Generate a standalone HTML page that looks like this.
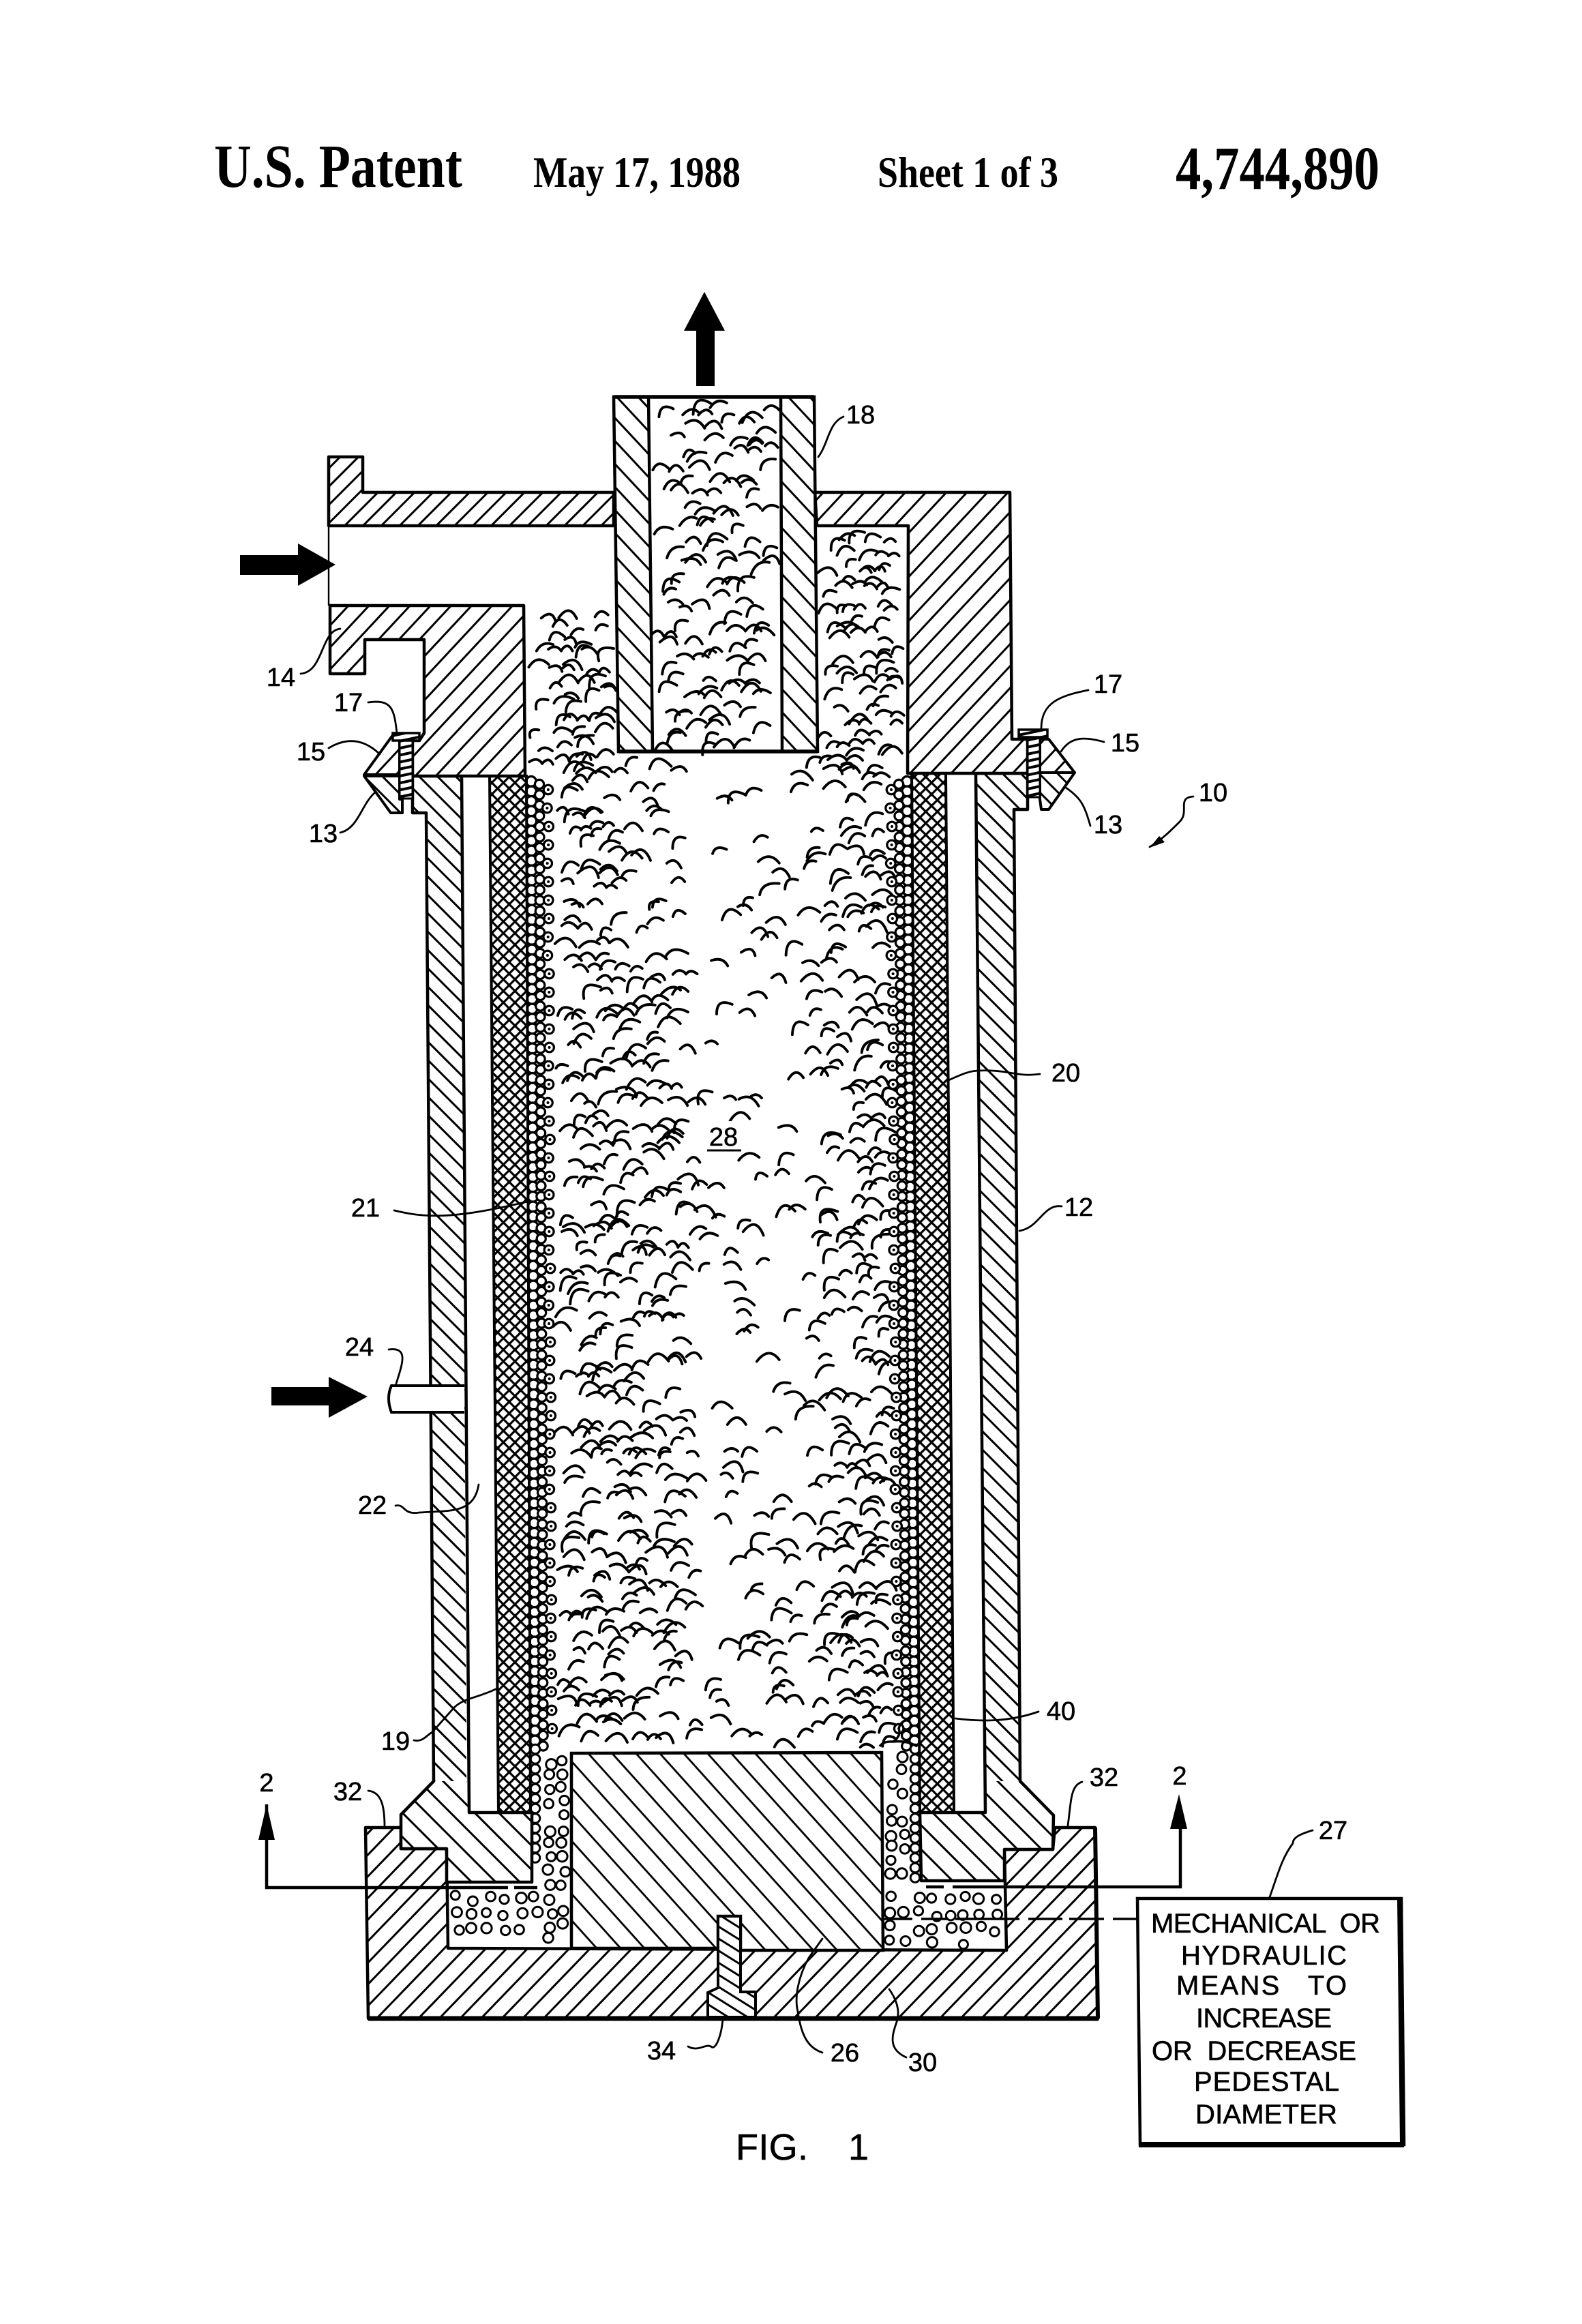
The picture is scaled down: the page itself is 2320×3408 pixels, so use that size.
<!DOCTYPE html>
<html lang="en">
<head>
<meta charset="utf-8">
<title>U.S. Patent 4,744,890 - FIG. 1</title>
<style>
html,body{margin:0;padding:0;background:#fff;width:2320px;height:3408px;overflow:hidden}
svg{display:block;position:absolute;left:0;top:0}
.h{font-family:"Liberation Serif",serif;font-weight:bold;fill:#000}
.l{font-family:"Liberation Sans",sans-serif;font-size:38px;fill:#000;text-anchor:middle;stroke:#000;stroke-width:.6}
.b{font-family:"Liberation Sans",sans-serif;font-size:40px;fill:#000;stroke:#000;stroke-width:.6}
.o{fill:none;stroke:#000;stroke-width:4.5;stroke-linejoin:round}
.ld{fill:none;stroke:#000;stroke-width:2.8;stroke-linecap:round}
</style>
</head>
<body>
<svg id="s" width="2320" height="3408" viewBox="0 0 2320 3408" xmlns="http://www.w3.org/2000/svg">
<defs>
<pattern id="hw" width="19" height="19" patternUnits="userSpaceOnUse" patternTransform="rotate(45)"><rect width="19" height="19" fill="#fff"/><rect y="8" width="19" height="3" fill="#000"/></pattern>
<pattern id="hu" width="25" height="25" patternUnits="userSpaceOnUse" patternTransform="rotate(45)"><rect width="25" height="25" fill="#fff"/><rect y="11" width="25" height="3" fill="#000"/></pattern>
<pattern id="ht" width="23" height="23" patternUnits="userSpaceOnUse" patternTransform="rotate(47)"><rect width="23" height="23" fill="#fff"/><rect y="10" width="23" height="3" fill="#000"/></pattern>
<pattern id="hr" width="22" height="22" patternUnits="userSpaceOnUse" patternTransform="rotate(-47)"><rect width="22" height="22" fill="#fff"/><rect y="10" width="22" height="3" fill="#000"/></pattern>
<pattern id="hp" width="19" height="19" patternUnits="userSpaceOnUse" patternTransform="rotate(-45)"><rect width="19" height="19" fill="#fff"/><rect y="8" width="19" height="3" fill="#000"/></pattern>
<pattern id="hd" width="26" height="26" patternUnits="userSpaceOnUse" patternTransform="rotate(48)"><rect width="26" height="26" fill="#fff"/><rect y="12" width="26" height="2.8" fill="#000"/></pattern>
<pattern id="hb" width="22" height="22" patternUnits="userSpaceOnUse" patternTransform="rotate(-46)"><rect width="22" height="22" fill="#fff"/><rect y="10" width="22" height="3" fill="#000"/></pattern>
<pattern id="hs" width="10" height="10" patternUnits="userSpaceOnUse" patternTransform="rotate(-12)"><rect width="10" height="10" fill="#fff"/><rect y="3" width="10" height="4" fill="#000"/></pattern>
<pattern id="hk" width="15" height="15" patternUnits="userSpaceOnUse" patternTransform="rotate(32)"><rect width="15" height="15" fill="#fff"/><rect y="6" width="15" height="3" fill="#000"/></pattern>
<pattern id="m" width="12" height="12" patternUnits="userSpaceOnUse" patternTransform="rotate(45)"><rect width="12" height="12" fill="#fff"/><rect width="12" height="3.2" fill="#000"/><rect width="3.2" height="12" fill="#000"/></pattern>
</defs>

<!-- header -->
<text class="h" x="314" y="274" font-size="90" textLength="364" lengthAdjust="spacingAndGlyphs">U.S. Patent</text>
<text class="h" x="782" y="274" font-size="64" textLength="304" lengthAdjust="spacingAndGlyphs">May 17, 1988</text>
<text class="h" x="1287" y="274" font-size="64" textLength="265" lengthAdjust="spacingAndGlyphs">Sheet 1 of 3</text>
<text class="h" x="1724" y="277" font-size="90" textLength="299" lengthAdjust="spacingAndGlyphs">4,744,890</text>

<g id="grain"></g>
<g id="beads"></g>

<!-- mesh layers -->
<polygon points="718,1138 772,1138 778,2658 731,2658" fill="url(#m)" stroke="#000" stroke-width="4"/>
<polygon points="1337,1134 1387,1134 1399,2658 1349,2658" fill="url(#m)" stroke="#000" stroke-width="4"/>

<!-- base -->
<polygon points="536,2680 588,2680 588,2711 655,2711 657,2857 1476,2860 1473,2712 1544,2712 1547,2680 1606,2680 1610,2960 540,2960" fill="url(#hb)" stroke="#000" stroke-width="4.5" stroke-linejoin="round"/>
<line x1="540" y1="2960" x2="1611" y2="2960" stroke="#000" stroke-width="7"/>
<line x1="1606" y1="2680" x2="1610" y2="2960" stroke="#000" stroke-width="6"/>

<!-- vessel walls: hatch fills -->
<polygon points="636,2612 684,2612 688,2658 780,2658 780,2760 655,2760 655,2711 588,2711 588,2661" fill="url(#hu)"/>
<polygon points="605,1138 677,1138 684,2612 636,2612 625,1192 605,1192" fill="url(#hw)"/>
<polygon points="1496,2612 1545,2662 1544,2712 1473,2712 1473,2758 1351,2758 1349,2658 1445,2658 1444,2612" fill="url(#hu)"/>
<polygon points="1431,1134 1507,1134 1507,1187 1487,1187 1496,2612 1444,2612" fill="url(#hw)"/>
<!-- vessel walls: outlines -->
<path class="o" d="M605,1138 H677 L688,2658 H780 V2760 H655 V2711 H588 V2661 L636,2612 L625,1192 H605 Z"/>
<path class="o" d="M1431,1134 H1507 V1187 H1487 L1496,2612 L1545,2662 L1544,2712 H1473 V2758 H1351 L1349,2658 H1445 Z"/>

<!-- pedestal -->
<polygon points="838,2571 1293,2570 1295,2860 1086,2860 1086,2810 1053,2810 1053,2857 838,2857" fill="url(#hd)" stroke="#000" stroke-width="4.5"/>

<!-- bolt 34 -->
<polygon points="1053,2810 1086,2810 1086,2921 1108,2921 1108,2958 1038,2958 1038,2922 1053,2915" fill="url(#hk)" stroke="#000" stroke-width="4"/>

<!-- top housing -->
<polygon points="482,670 532,670 532,722 900,722 900,771 482,771" fill="url(#hp)" stroke="#000" stroke-width="4.5" stroke-linejoin="round"/>
<polygon points="1195,722 1481,722 1484,1084 1507,1084 1507,1134 1331,1134 1332,771 1198,771" fill="url(#hr)" stroke="#000" stroke-width="4.5" stroke-linejoin="round"/>
<polygon points="484,888 768,888 770,1138 605,1138 605,1086 615,1086 622,1075 622,938 535,938 535,988 484,988" fill="url(#hr)" stroke="#000" stroke-width="4.5" stroke-linejoin="round"/>
<line x1="482" y1="771" x2="482" y2="888" stroke="#000" stroke-width="2.4"/>

<!-- outlet tube 18 -->
<polygon points="900,582 951,582 957,1102 907,1102" fill="url(#ht)" stroke="#000" stroke-width="4.5"/>
<polygon points="1145,582 1194,582 1199,1102 1147,1102" fill="url(#ht)" stroke="#000" stroke-width="4.5"/>
<line x1="900" y1="582" x2="1194" y2="582" stroke="#000" stroke-width="5.5"/>
<line x1="907" y1="1102" x2="1199" y2="1102" stroke="#000" stroke-width="5.5"/>

<!-- clamps and bolts left -->
<polygon points="534,1136 576,1078 586,1078 586,1136" fill="url(#hr)" stroke="#000" stroke-width="4" stroke-linejoin="round"/>
<polygon points="534,1138 573,1192 590,1192 590,1172 586,1172 586,1138" fill="url(#hw)" stroke="#000" stroke-width="4" stroke-linejoin="round"/>
<rect x="586" y="1086" width="19" height="85" fill="url(#hs)" stroke="#000" stroke-width="3"/>
<rect x="576" y="1075" width="39" height="11" fill="url(#hs)" stroke="#000" stroke-width="3.5"/>

<!-- clamps and bolts right -->
<polygon points="1525,1084 1538,1084 1576,1133 1525,1133" fill="url(#hr)" stroke="#000" stroke-width="4" stroke-linejoin="round"/>
<polygon points="1525,1133 1576,1133 1538,1187 1527,1187 1525,1172" fill="url(#hw)" stroke="#000" stroke-width="4" stroke-linejoin="round"/>
<rect x="1507" y="1080" width="18" height="89" fill="url(#hs)" stroke="#000" stroke-width="3"/>
<rect x="1494" y="1070" width="42" height="11" fill="url(#hs)" stroke="#000" stroke-width="3.5"/>

<!-- inlet pipe 24 -->
<path d="M681,2032 L574,2032 Q566,2050 574,2071 L681,2071" fill="#fff" stroke="#000" stroke-width="4"/>

<!-- big arrows -->
<polygon points="1021,566 1021,485 1003,485 1033,428 1063,485 1048,485 1048,566" fill="#000"/>
<polygon points="352,814 437,814 437,797 492,828 437,859 437,843 352,843" fill="#000"/>
<polygon points="398,2034 482,2034 482,2019 539,2048 482,2079 482,2061 398,2061" fill="#000"/>

<!-- section lines -->
<path d="M391,2646 V2768 H654 M657,2768 H745 M754,2768 H788" fill="none" stroke="#000" stroke-width="4.5"/>
<polygon points="391,2646 403,2698 379,2698" fill="#000"/>
<path d="M1358,2767 H1384 M1397,2767 H1731 V2682" fill="none" stroke="#000" stroke-width="4.5"/>
<polygon points="1729,2631 1741,2682 1716,2682" fill="#000"/>

<!-- dashed link to box -->
<path d="M1295,2814 H1338 M1351,2814 H1391 M1401,2814 H1495 M1508,2814 H1558 M1568,2814 H1619 M1632,2814 H1668" fill="none" stroke="#000" stroke-width="3.6"/>

<!-- bead retainer bump -->
<path d="M1290,2561 Q1295,2553 1310,2554 Q1322,2545 1318,2535 Q1320,2525 1330,2522 M1310,2554 Q1330,2552 1345,2561" fill="none" stroke="#000" stroke-width="3.4"/>

<!-- control box -->
<polygon points="1668,2784 2055,2784 2059,3145 1672,3145" fill="#fff" stroke="#000" stroke-width="4.5"/>
<line x1="2053" y1="2784" x2="2057" y2="3145" stroke="#000" stroke-width="8"/>
<line x1="1670" y1="3145" x2="2059" y2="3145" stroke="#000" stroke-width="8"/>
<text class="b" x="1688" y="2834" xml:space="preserve" textLength="336">MECHANICAL  OR</text>
<text class="b" x="1732" y="2881" textLength="243">HYDRAULIC</text>
<text class="b" x="1725" y="2925" xml:space="preserve" textLength="250">MEANS   TO</text>
<text class="b" x="1754" y="2973" textLength="199">INCREASE</text>
<text class="b" x="1689" y="3021" xml:space="preserve" textLength="300">OR  DECREASE</text>
<text class="b" x="1751" y="3066" textLength="213">PEDESTAL</text>
<text class="b" x="1753" y="3114" textLength="208">DIAMETER</text>

<!-- leaders -->
<path class="ld" d="M1200,670 C1215,650 1215,620 1237,611"/>
<path class="ld" d="M499,922 C470,925 475,985 441,988"/>
<path class="ld" d="M540,1030 C575,1025 578,1040 582,1075"/>
<path class="ld" d="M482,1097 C510,1080 535,1085 557,1106"/>
<path class="ld" d="M499,1221 C525,1215 530,1180 549,1163"/>
<path class="ld" d="M1596,1012 C1555,1020 1527,1030 1527,1068"/>
<path class="ld" d="M1619,1088 C1590,1080 1570,1080 1556,1102"/>
<path class="ld" d="M1599,1211 C1590,1180 1585,1170 1563,1155"/>
<path class="ld" d="M1750,1168 C1725,1170 1745,1190 1730,1205 C1715,1220 1705,1230 1686,1242"/>
<polygon points="1686,1243 1700,1226 1708,1235" fill="#000"/>
<path class="ld" d="M1525,1575 C1490,1580 1480,1568 1436,1570 C1420,1570 1405,1578 1391,1584"/>
<path class="ld" d="M1557,1769 C1530,1765 1525,1800 1495,1805"/>
<path class="ld" d="M578,1775 C620,1785 660,1790 778,1761"/>
<path class="ld" d="M570,1979 C600,1975 590,2000 581,2029"/>
<path class="ld" d="M580,2208 C595,2205 590,2222 615,2218 C660,2215 695,2220 702,2177"/>
<path class="ld" d="M607,2552 C620,2555 625,2545 634,2540 L666,2504 C680,2490 700,2490 727,2477"/>
<path class="ld" d="M1523,2510 C1480,2525 1440,2525 1401,2520"/>
<path class="ld" d="M540,2626 C560,2628 564,2650 564,2679"/>
<path class="ld" d="M1587,2613 C1570,2618 1571,2640 1566,2677"/>
<path class="ld" d="M1925,2684 C1905,2690 1896,2695 1896,2703 C1880,2725 1875,2745 1862,2782"/>
<path class="ld" d="M1060,2961 C1058,2985 1050,3005 1044,3002 C1035,2995 1025,3010 1009,3001"/>
<path class="ld" d="M1206,2843 L1186,2871 C1170,2900 1165,2930 1170,2950 C1175,2985 1185,3003 1206,3010"/>
<path class="ld" d="M1304,2917 C1320,2940 1318,2955 1315,2965 C1308,2985 1302,3005 1329,3017"/>

<!-- labels -->
<text class="l" x="1262" y="621">18</text>
<text class="l" x="412" y="1006">14</text>
<text class="l" x="511" y="1043">17</text>
<text class="l" x="456" y="1115">15</text>
<text class="l" x="474" y="1235">13</text>
<text class="l" x="1625" y="1016">17</text>
<text class="l" x="1650" y="1102">15</text>
<text class="l" x="1625" y="1222">13</text>
<text class="l" x="1779" y="1175">10</text>
<text class="l" x="1563" y="1586">20</text>
<text class="l" x="536" y="1784">21</text>
<text class="l" x="527" y="1988">24</text>
<text class="l" x="546" y="2220">22</text>
<text class="l" x="1582" y="1783">12</text>
<rect x="1034" y="1644" width="56" height="40" fill="#fff"/>
<text class="l" x="1061" y="1680">28</text>
<line x1="1037" y1="1687" x2="1087" y2="1687" stroke="#000" stroke-width="3"/>
<text class="l" x="580" y="2566">19</text>
<text class="l" x="1556" y="2522">40</text>
<text class="l" x="510" y="2640">32</text>
<text class="l" x="1619" y="2619">32</text>
<text class="l" x="391" y="2627">2</text>
<text class="l" x="1730" y="2617">2</text>
<text class="l" x="1955" y="2697">27</text>
<text class="l" x="970" y="3020">34</text>
<text class="l" x="1239" y="3023">26</text>
<text class="l" x="1353" y="3037">30</text>
<text class="l" x="1132" y="3167" style="font-size:54px" textLength="106">FIG.</text>
<text class="l" x="1259" y="3167" style="font-size:54px">1</text>
</svg>
<script>
(function(){
/* mulberry32: gives even, uncorrelated scatter */
var seed=4744890;
function R(){seed|=0;seed=seed+0x6D2B79F5|0;var t=Math.imul(seed^seed>>>15,1|seed);t=t+Math.imul(t^t>>>7,61|t)^t;return((t^t>>>14)>>>0)/4294967296;}
var NS="http://www.w3.org/2000/svg";
var d="";
function arc(x,y,w,tilt){
  var c=Math.cos(tilt),s=Math.sin(tilt),h=w*(0.28+R()*0.3);
  var ax=-w/2,ay=h/2,bx=w*(R()*0.3-0.15),by=-h,ex=w/2,ey=h/2;
  function X(a,b){return (x+a*c-b*s).toFixed(1);}
  function Y(a,b){return (y+a*s+b*c).toFixed(1);}
  d+="M"+X(ax,ay)+" "+Y(ax,ay)+"Q"+X(bx,by)+" "+Y(bx,by)+" "+X(ex,ey)+" "+Y(ex,ey);
}
function fill(x0,x1,y0,y1,cw,ch,dens,wmin,wmax){
  for(var y=y0;y<y1;y+=ch){
    for(var x=x0;x<x1;x+=cw){
      var px=x+R()*cw,py=y+R()*ch;
      var w=wmin+R()*(wmax-wmin);
      if(px-w/2<x0||px+w/2>x1||py<y0+6||py>y1-6)continue;
      var v=dens(px,py);
      if(R()<v){
        var t=(R()-0.68)*1.05;
        arc(px,py,w,t);
        if(v>0.6&&R()<0.22&&px+w*1.4<x1){arc(px+w*0.92,py-2+R()*5,w*0.85,t*0.5);}
      }
    }
  }
}
function mainD(x,y){
  var v;
  if(x<1000)v=0.9-(x-810)/190*0.3;
  else if(x<1170)v=0.3;
  else v=0.35+(x-1170)/140*0.62;
  if(y<1400&&x>900&&x<1240)v*=0.75;
  if(y>2150&&x>1150)v=Math.min(1,v*1.2);
  return v;
}
/* main bed */
fill(812,1316,1108,2568,29,20,mainD,17,33);
/* tube and side pockets */
fill(955,1145,586,1100,32,23,function(){return 0.95},18,32);
fill(770,905,892,1136,28,19,function(){return 0.95},17,30);
fill(1198,1332,776,1132,27,19,function(){return 0.97},16,30);
var g=document.createElementNS(NS,"path");
g.setAttribute("d",d);
g.setAttribute("fill","none");
g.setAttribute("stroke","#000");
g.setAttribute("stroke-width","3.9");
g.setAttribute("stroke-linecap","round");
document.getElementById("grain").appendChild(g);

var b=document.getElementById("beads");
function circ(x,y,r,sw){
  var c=document.createElementNS(NS,"circle");
  c.setAttribute("cx",x.toFixed(1));c.setAttribute("cy",y.toFixed(1));c.setAttribute("r",r);
  c.setAttribute("fill","#fff");c.setAttribute("stroke","#000");c.setAttribute("stroke-width",sw);
  b.appendChild(c);
}
function dot(x,y,r){
  var c=document.createElementNS(NS,"circle");
  c.setAttribute("cx",x.toFixed(1));c.setAttribute("cy",y.toFixed(1));c.setAttribute("r",r);
  c.setAttribute("fill","#000");b.appendChild(c);
}
function lm(y){return 772+(y-1138)*6/1520;}
function rm(y){return 1337+(y-1134)*12/1524;}
var y;
for(y=1146;y<2565;y+=14.5){circ(lm(y)+7,y,7.4,3.4);circ(rm(y)-7,y,7.4,3.4);}
for(y=1150;y<2565;y+=15.5){circ(lm(y)+19,y,6.6,3.2);circ(rm(y)-19,y,6.6,3.2);}
for(y=1158;y<2550;y+=27){
  var jx=(R()-.5)*3;
  circ(lm(y)+31+jx,y,6.8,3.2);dot(lm(y)+31+jx,y,2);
  circ(rm(y)-31+jx,y,6.8,3.2);dot(rm(y)-31+jx,y,2);
}
/* columns continuing beside pedestal */
for(y=2565;y<2730;y+=14.5){circ(785,y,6.8,3);}
for(y=2565;y<2765;y+=14.5){circ(1342,y,6.8,3);}
/* pedestal gap beads */
function scatter(x0,x1,y0,y1,st){
  for(var yy=y0;yy<y1;yy+=st){
    for(var xx=x0;xx<x1;xx+=st){
      var px=xx+st/2+(R()-.5)*st*.4,py=yy+st/2+(R()-.5)*st*.4,r=6.5+R()*1.3;
      if(px-r<x0||px+r>x1||py-r<y0||py+r>y1)continue;
      circ(px,py,r,3);
    }
  }
}
scatter(795,838,2574,2772,20);
scatter(1297,1334,2566,2772,19);
scatter(660,796,2772,2855,23);
scatter(1335,1473,2772,2858,23);
scatter(796,838,2772,2855,21);
scatter(1297,1335,2772,2858,21);
})();
</script>
</body>
</html>
